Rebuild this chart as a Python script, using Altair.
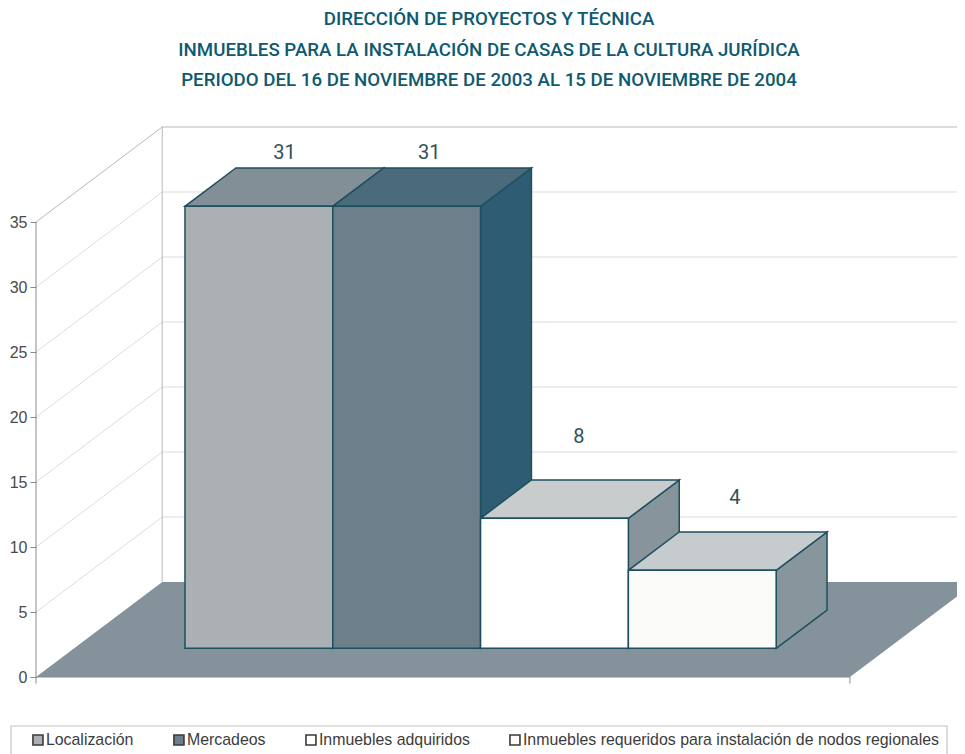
import altair as alt
import pandas as pd

categories = ["Localización", "Mercadeos", "Inmuebles adquiridos",
              "Inmuebles requeridos para instalación de nodos regionales"]
bar_heights = [34, 34, 10, 6]
bar_labels = ["31", "31", "8", "4"]
label_levels = [40.3, 40.3, 18.5, 13.78]
label_shift = [0.0, -0.02, -0.008, 0.047]
axis_ticks = [0, 5, 10, 15, 20, 25, 30, 35]

front_colors = ["#abb0b4", "#6c7f8b", "#ffffff", "#fbfcfa"]
top_colors = ["#828f97", "#4b6b7c", "#c9cccd", "#c6cbcd"]
side_colors = ["#6f808b", "#2e5d73", "#87949b", "#87959d"]
EDGE = "#1d4f5e"
GRID = "#dcdcdc"
WALL = "#b9b9b9"

# Projection of the 3-D box: units are bars across, value units up
BAR_GAP = 0.75
DEPTH_X, DEPTH_Y = 0.854, 7.31
NEAR, FAR = 0.302, 0.705
XMAX, YMAX = 921 / 147.8, 551 / 13.0
FLOOR_W = 5.507


def proj(u, v, d):
    return u + d * DEPTH_X, v + d * DEPTH_Y


x_scale = alt.Scale(domain=[0, XMAX], nice=False, zero=False)
y_scale = alt.Scale(domain=[0, YMAX], nice=False, zero=False)
y_axis = alt.Axis(
    title=None, values=axis_ticks, domain=False, grid=False,
    tickColor="#8a8a8a", tickSize=6, tickWidth=1,
    labelColor="#4a4a4a", labelFont="Liberation Sans", labelFontSize=16,
    labelPadding=3)
X = alt.X("x:Q", scale=x_scale, axis=None)
Y = alt.Y("y:Q", scale=y_scale, axis=y_axis)

fronts, tops, sides, texts = [], [], [], []
for i, (cat, h) in enumerate(zip(categories, bar_heights)):
    u0, u1 = BAR_GAP + i, BAR_GAP + i + 1
    x0, y0 = proj(u0, 0, NEAR)
    x1, y1 = proj(u1, h, NEAR)
    fronts.append(dict(cat=cat, x=x0, x2=x1, y=y0, y2=y1))
    xb0, yb = proj(u0, h, FAR)
    xb1, _ = proj(u1, h, FAR)
    tops += [dict(g=i, x=x0, x2=x1, y=y1, shade=top_colors[i]),
             dict(g=i, x=xb0, x2=xb1, y=yb, shade=top_colors[i])]
    _, ybase = proj(u1, 0, FAR)
    sides += [dict(g=i, x=x1, y=y0, y2=y1, shade=side_colors[i]),
              dict(g=i, x=xb1, y=ybase, y2=yb, shade=side_colors[i])]
    texts.append(dict(x=proj(u0 + 0.5, 0, FAR - 0.2)[0] + label_shift[i],
                      y=label_levels[i], t=bar_labels[i]))

grid = []
for v in axis_ticks[1:]:
    bx, by = proj(0, v, 1)
    color = WALL if v == 35 else GRID
    grid.append(dict(x=0, x2=bx, y=v, y2=by, c=color))
    grid.append(dict(x=bx, x2=XMAX, y=by, y2=by, c=color))
bx, by = proj(0, 0, 1)
grid.append(dict(x=bx, x2=bx, y=by, y2=YMAX - 0.05, c=WALL))

frame = [dict(x=0, x2=0, y=-0.5, y2=35),
         dict(x=0, x2=FLOOR_W, y=0, y2=0),
         dict(x=FLOOR_W, x2=FLOOR_W, y=-0.5, y2=0)]

floor = [dict(x=0, x2=FLOOR_W, y=0),
         dict(x=bx, x2=FLOOR_W + DEPTH_X, y=by)]

grid_layer = alt.Chart(pd.DataFrame(grid)).mark_rule(strokeWidth=1).encode(
    x=X, x2="x2:Q", y=Y, y2="y2:Q", stroke=alt.Stroke("c:N", scale=None))
floor_layer = alt.Chart(pd.DataFrame(floor)).mark_area(
    orient="horizontal", color="#84929b").encode(x=X, x2="x2:Q", y=Y)
frame_layer = alt.Chart(pd.DataFrame(frame)).mark_rule(
    color="#8a8a8a", strokeWidth=1).encode(x=X, x2="x2:Q", y=Y, y2="y2:Q")
side_layer = alt.Chart(pd.DataFrame(sides)).mark_area(
    orient="vertical", stroke=EDGE, strokeWidth=1.5).encode(
    x=X, y=Y, y2="y2:Q", detail="g:N", fill=alt.Fill("shade:N", scale=None))
top_layer = alt.Chart(pd.DataFrame(tops)).mark_area(
    orient="horizontal", stroke=EDGE, strokeWidth=1.5).encode(
    x=X, x2="x2:Q", y=Y, detail="g:N", fill=alt.Fill("shade:N", scale=None))
front_layer = alt.Chart(pd.DataFrame(fronts)).mark_rect(
    stroke=EDGE, strokeWidth=1.5).encode(
    x=X, x2="x2:Q", y=Y, y2="y2:Q",
    color=alt.Color("cat:N", sort=categories,
                    scale=alt.Scale(domain=categories, range=front_colors),
                    legend=alt.Legend(
                        title=None, orient="none", legendX=-6, legendY=606,
                        direction="horizontal", columns=4, gridAlign="none",
                        columnPadding=36, symbolType="square", symbolSize=100,
                        symbolStrokeColor="#3a3a3a", symbolStrokeWidth=1.6,
                        labelFont="Liberation Sans", labelFontSize=15.9,
                        labelColor="#3c3c3c", labelOffset=0, labelLimit=500,
                        padding=0)))
text_layer = alt.Chart(pd.DataFrame(texts)).mark_text(
    font="Roboto", fontSize=20, color="#34505b").encode(
    x=X, y=Y, text="t:N")
legend_box = alt.Chart(pd.DataFrame({"a": [0]})).mark_rect(
    filled=False, stroke="#c4c4c4", strokeWidth=1.2).encode(
    x=alt.value(-25), x2=alt.value(911), y=alt.value(600), y2=alt.value(640))

chart = alt.layer(
    grid_layer, floor_layer, frame_layer, side_layer, top_layer,
    front_layer, text_layer, legend_box,
).properties(
    width=921, height=551, autosize="none",
    padding={"left": 28, "top": 118, "right": 0, "bottom": 77},
    title=alt.TitleParams(
        text=["DIRECCIÓN DE PROYECTOS Y TÉCNICA",
              "INMUEBLES PARA LA INSTALACIÓN DE CASAS DE LA CULTURA JURÍDICA",
              "PERIODO DEL 16 DE NOVIEMBRE DE 2003 AL 15 DE NOVIEMBRE DE 2004"],
        font="Roboto", fontSize=18.7, fontWeight=500,
        color="#0e5a70", lineHeight=30.5, anchor="middle", dx=-7.5, offset=36),
).configure_view(stroke=None)

chart.save("out.html", embed_options={"renderer": "svg", "actions": False})
